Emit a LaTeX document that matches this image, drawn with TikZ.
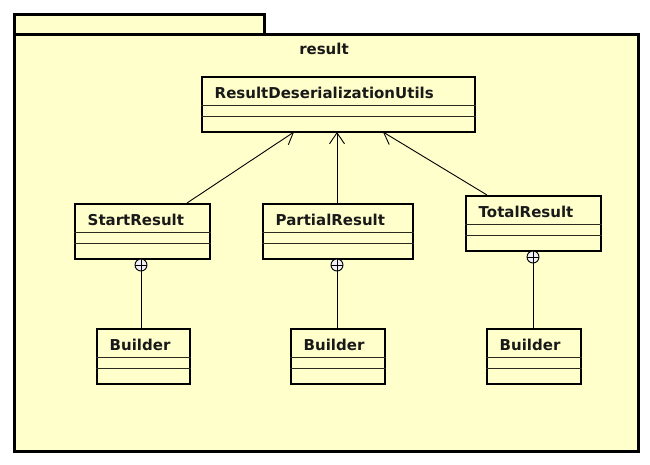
\documentclass[tikz,border=0pt]{standalone}
\usepackage{fontspec}
\setmainfont{DejaVu Sans}
\usetikzlibrary{arrows.meta,calc}
\definecolor{umlfill}{HTML}{FFFFCC}
\definecolor{sepcol}{HTML}{2A2A20}
\definecolor{nestfill}{HTML}{EEEEF4}
\newcommand\umlcls[6]{%
  \node[clsbox, minimum width=#4pt, minimum height=#5pt] (#1) at (#2,#3) {};
  \node[clstext] (#1-t) at ($(#1.north west)+(13.5,16.5)$) {#6};
  \draw[sep] ($(#1.north west)+(0,29.5)$) -- ($(#1.north east)+(0,29.5)$);
  \draw[sep] ($(#1.north west)+(0,40.5)$) -- ($(#1.north east)+(0,40.5)$);
}
\begin{document}
\begin{tikzpicture}[x=1pt,y=-1pt,
  pkgbox/.style={draw=black, line width=2.6pt, fill=umlfill, anchor=north west, inner sep=0pt},
  clsbox/.style={draw=black, line width=2.4pt, fill=umlfill, anchor=north west, inner sep=0pt},
  clstext/.style={anchor=west, inner sep=0pt, text=black!90, font=\bfseries\fontsize{15}{18}\selectfont},
  sep/.style={draw=sepcol, line width=1pt},
  assoc/.style={draw=black, line width=0.9pt, -{Straight Barb[length=11pt,width=15pt,line width=0.9pt]}},
  nest/.style={draw=black, line width=0.9pt, fill=nestfill, circle, minimum size=12pt, inner sep=0pt,
    path picture={\draw[line width=0.8pt] (path picture bounding box.north) -- (path picture bounding box.south)
      (path picture bounding box.west) -- (path picture bounding box.east);}},
  conn/.style={draw=black, line width=0.9pt}]
\useasboundingbox (0,0) rectangle (650,464);
\fill[white] (0,0) rectangle (650,464);
\node[pkgbox, minimum width=250pt, minimum height=20pt] (tab) at (13,13) {};
\node[pkgbox, minimum width=624pt, minimum height=417pt] (pkg) at (13,33) {};
\node[clstext, anchor=center] (pkgname) at (324,49) {result};

\umlcls{utils}{201}{76}{273}{55}{ResultDeserializationUtils}
\umlcls{start}{74}{203}{135}{55}{StartResult}
\umlcls{partial}{262}{203}{150}{55}{PartialResult}
\umlcls{total}{465}{195}{135}{55}{TotalResult}
\umlcls{b1}{96}{328}{93}{55}{Builder}
\umlcls{b2}{290}{328}{94}{55}{Builder}
\umlcls{b3}{486}{328}{94}{55}{Builder}

\coordinate (sTop) at (187,203);
\coordinate (pTop) at (337,203);
\coordinate (tTop) at (487,195);
\coordinate (uA) at (294,132);
\coordinate (uB) at (337,132);
\coordinate (uC) at (383,132);
\draw[assoc] (sTop) -- (uA);
\draw[assoc] (pTop) -- (uB);
\draw[assoc] (tTop) -- (uC);

\node[nest] (n1) at (141,265) {};
\node[nest] (n2) at (337,265) {};
\node[nest] (n3) at (533,257) {};
\draw[conn] (n1.south) -- (n1.south |- b1.north);
\draw[conn] (n2.south) -- (n2.south |- b2.north);
\draw[conn] (n3.south) -- (n3.south |- b3.north);
\end{tikzpicture}
\end{document}
